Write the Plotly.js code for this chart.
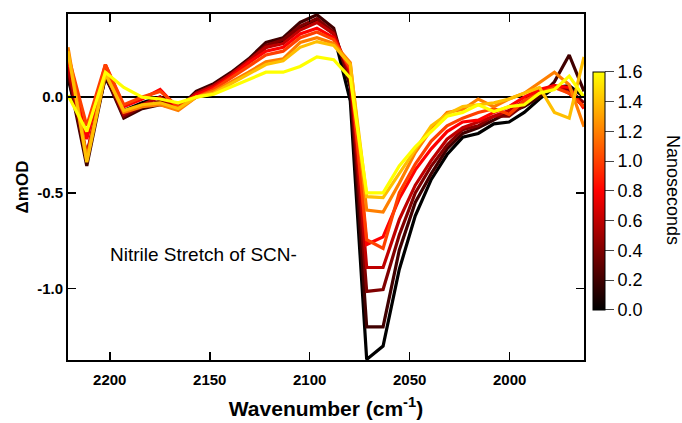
<!DOCTYPE html>
<html>
<head>
<meta charset="utf-8">
<script src="https://cdn.plot.ly/plotly-3.0.1.min.js"></script>
<style>html,body{margin:0;padding:0;background:#fff;}#chart{width:682px;height:423px;}</style>
</head>
<body>
<div id="chart"></div>
<script>
// Wavenumbers (cm^-1)
const wavenumber = [2220.9, 2211.5, 2202.2, 2193.0, 2183.8, 2174.8, 2165.8, 2156.8, 2148.0, 2139.2,
  2130.5, 2121.9, 2113.3, 2104.8, 2096.4, 2088.0, 2079.7, 2071.5, 2063.3, 2055.2,
  2047.2, 2039.2, 2031.3, 2023.5, 2015.7, 2007.9, 2000.3, 1992.7, 1985.1, 1977.6, 1970.2, 1962.8];

// Delay times (ns)
const times = [0.0, 0.2, 0.4, 0.6, 0.8, 1.0, 1.2, 1.4, 1.6];

// ΔmOD spectra, one array per delay
const s0_0 = [0.10, -0.30, 0.10, -0.07, -0.03, 0.00, -0.05, 0.01, 0.05, 0.11, 0.18, 0.26, 0.29, 0.36, 0.40, 0.33, -0.02, -1.37, -1.30, -0.90, -0.62, -0.43, -0.30, -0.21, -0.19, -0.14, -0.13, -0.08, -0.01, 0.05, 0.06, 0.00];
const s0_2 = [0.12, -0.36, 0.11, -0.11, -0.06, -0.04, -0.06, 0.03, 0.07, 0.13, 0.20, 0.285, 0.31, 0.39, 0.43, 0.36, 0.05, -1.20, -1.20, -0.80, -0.55, -0.40, -0.27, -0.19, -0.16, -0.12, -0.08, -0.05, 0.00, 0.08, 0.22, 0.03];
const s0_4 = [0.14, -0.33, 0.12, -0.10, -0.05, -0.02, -0.06, 0.02, 0.06, 0.12, 0.19, 0.27, 0.30, 0.37, 0.41, 0.34, 0.08, -1.015, -1.005, -0.72, -0.50, -0.36, -0.25, -0.17, -0.15, -0.10, -0.10, -0.04, 0.02, 0.05, 0.04, -0.03];
const s0_6 = [0.16, -0.30, 0.14, -0.09, -0.04, 0.00, -0.06, 0.02, 0.06, 0.12, 0.19, 0.26, 0.28, 0.35, 0.39, 0.33, 0.12, -0.89, -0.89, -0.64, -0.46, -0.33, -0.22, -0.16, -0.13, -0.10, -0.07, -0.02, 0.03, 0.06, 0.02, -0.05];
const s0_8 = [0.20, -0.22, 0.17, -0.05, -0.01, 0.04, -0.06, 0.01, 0.05, 0.11, 0.18, 0.24, 0.26, 0.33, 0.36, 0.31, 0.14, -0.77, -0.73, -0.53, -0.38, -0.27, -0.18, -0.13, -0.12, -0.08, -0.05, 0.00, 0.04, 0.06, 0.05, -0.06];
const s1_0 = [0.22, -0.15, 0.17, -0.04, 0.00, 0.03, -0.05, 0.00, 0.04, 0.10, 0.16, 0.22, 0.24, 0.31, 0.34, 0.30, 0.15, -0.745, -0.79, -0.50, -0.35, -0.23, -0.15, -0.11, -0.08, -0.06, -0.09, -0.02, 0.02, 0.05, 0.02, -0.05];
const s1_2 = [0.26, -0.32, 0.13, -0.08, -0.05, -0.04, -0.07, 0.00, 0.03, 0.08, 0.13, 0.185, 0.20, 0.285, 0.31, 0.28, 0.18, -0.59, -0.60, -0.45, -0.29, -0.17, -0.08, -0.065, -0.01, -0.05, -0.01, 0.02, 0.075, 0.13, 0.065, -0.155];
const s1_4 = [0.24, -0.34, 0.12, -0.07, -0.04, -0.03, -0.06, 0.00, 0.02, 0.07, 0.12, 0.17, 0.19, 0.26, 0.29, 0.27, 0.17, -0.52, -0.525, -0.40, -0.27, -0.15, -0.09, -0.05, -0.04, -0.03, -0.01, 0.02, 0.05, -0.08, -0.11, 0.21];
const s1_6 = [0.01, -0.18, 0.13, 0.05, 0.00, -0.01, -0.03, 0.00, 0.015, 0.055, 0.09, 0.13, 0.13, 0.16, 0.21, 0.195, 0.10, -0.50, -0.50, -0.36, -0.26, -0.18, -0.10, -0.08, -0.04, -0.075, -0.05, -0.04, 0.02, 0.04, 0.11, 0.00];

const spectra = [s0_0, s0_2, s0_4, s0_6, s0_8, s1_0, s1_2, s1_4, s1_6];

const cscale = [[0, '#000000'], [0.5, '#ff0000'], [1, '#ffff00']];
const tMin = 0, tMax = 1.6;

function hexToRgb(h) { return [parseInt(h.slice(1,3),16), parseInt(h.slice(3,5),16), parseInt(h.slice(5,7),16)]; }
function colorAt(t) {
  const f = (t - tMin) / (tMax - tMin);
  for (let i = 0; i < cscale.length - 1; i++) {
    const [f0, c0] = cscale[i], [f1, c1] = cscale[i+1];
    if (f >= f0 && f <= f1) {
      const u = (f - f0) / (f1 - f0);
      const a = hexToRgb(c0), b = hexToRgb(c1);
      return 'rgb(' + a.map((v, k) => Math.round(v + (b[k] - v) * u)).join(',') + ')';
    }
  }
  return cscale[cscale.length-1][1];
}

const FONT = 'Liberation Sans, Arial, sans-serif';

const traces = spectra.map((s, i) => ({
  type: 'scatter', mode: 'lines', x: wavenumber, y: s,
  line: { color: colorAt(times[i]), width: 3.2 },
  hoverinfo: 'skip', showlegend: false
}));

traces.push({
  type: 'scatter', mode: 'markers', x: [null], y: [null], showlegend: false, hoverinfo: 'skip',
  marker: {
    color: times, colorscale: cscale, cmin: tMin, cmax: tMax, showscale: true,
    colorbar: {
      x: 1.017, xanchor: 'left', xpad: 0, y: 0.489, yanchor: 'middle', ypad: 0,
      lenmode: 'pixels', len: 238, thicknessmode: 'pixels', thickness: 12,
      outlinewidth: 1, outlinecolor: '#000',
      tickvals: [0, 0.2, 0.4, 0.6, 0.8, 1.0, 1.2, 1.4, 1.6],
      ticktext: ['0.0', '0.2', '0.4', '0.6', '0.8', '1.0', '1.2', '1.4', '1.6'],
      ticks: 'outside', ticklen: 9, tickwidth: 1, tickcolor: '#444',
      tickfont: { family: FONT, size: 18, color: '#000' }
    }
  }
});

const layout = {
  width: 682, height: 423,
  margin: { l: 68, r: 98, t: 14, b: 62.5 },
  paper_bgcolor: '#fff', plot_bgcolor: '#fff',
  showlegend: false,
  xaxis: {
    range: [2220.9, 1962.8], showgrid: false, zeroline: false,
    showline: true, linecolor: '#000', linewidth: 2, mirror: 'ticks',
    ticks: 'inside', ticklen: 8, tickwidth: 1.5, tickcolor: '#000',
    tickvals: [2200, 2150, 2100, 2050, 2000],
    ticktext: ['2200', '2150', '2100', '2050', '2000'],
    ticklabelstandoff: 5,
    tickfont: { family: FONT, size: 15, color: '#000', weight: 'bold' },
    title: { text: 'Wavenumber (cm<sup>-1</sup>)', font: { family: FONT, size: 21, color: '#000', weight: 'bold' }, standoff: 14 }
  },
  yaxis: {
    range: [-1.373, 0.434], showgrid: false,
    zeroline: true, zerolinecolor: '#000', zerolinewidth: 2,
    showline: true, linecolor: '#000', linewidth: 2, mirror: 'ticks',
    ticks: 'inside', ticklen: 8, tickwidth: 1.5, tickcolor: '#000',
    tickvals: [0, -0.5, -1.0], ticktext: ['0.0', '-0.5', '-1.0'],
    tickfont: { family: FONT, size: 15, color: '#000', weight: 'bold' },
    title: { text: 'ΔmOD', font: { family: FONT, size: 17, color: '#000', weight: 'bold' }, standoff: 4 }
  },
  annotations: [
    { x: 2201, y: -0.82, xref: 'x', yref: 'y', xanchor: 'left', yanchor: 'middle', showarrow: false,
      text: 'Nitrile Stretch of SCN-', font: { family: FONT, size: 19, color: '#000' } },
    { x: 1.172, y: 0.492, xref: 'paper', yref: 'paper', xanchor: 'center', yanchor: 'middle', showarrow: false,
      textangle: 90, text: 'Nanoseconds', font: { family: FONT, size: 18, color: '#000' } }
  ]
};

Plotly.newPlot('chart', traces, layout, { displayModeBar: false, staticPlot: true });
</script>
</body>
</html>
